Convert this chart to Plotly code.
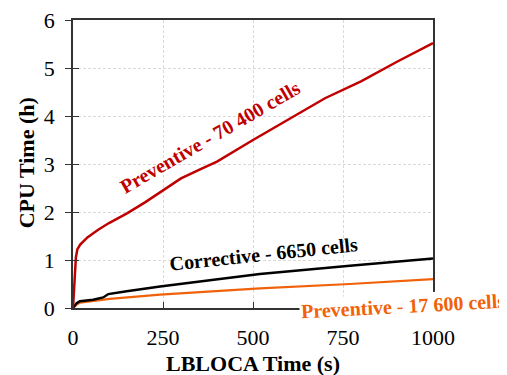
import plotly.graph_objects as go

# Data
red_x = [0, 2, 5, 8, 12, 20, 40, 70, 100, 150, 200, 250, 300, 350, 400, 500, 600, 700, 800, 900, 1000]
red_y = [0, 0.3, 0.7, 1.05, 1.22, 1.32, 1.47, 1.63, 1.77, 1.97, 2.2, 2.45, 2.7, 2.88, 3.05, 3.5, 3.93, 4.37, 4.72, 5.13, 5.52]

blk_x = [0, 5, 10, 19, 56, 84, 98, 149, 242, 380, 519, 769, 1000]
blk_y = [0, 0.06, 0.1, 0.14, 0.17, 0.22, 0.29, 0.35, 0.45, 0.58, 0.71, 0.88, 1.03]

org_x = [0, 5, 10, 19, 102, 242, 380, 519, 769, 1000]
org_y = [0, 0.04, 0.07, 0.11, 0.19, 0.28, 0.35, 0.41, 0.5, 0.6]

x_ticks = [0, 250, 500, 750, 1000]
y_ticks = [0, 1, 2, 3, 4, 5, 6]

RED = "#C00000"
ORANGE = "#F0620A"
FONT = "Liberation Serif"
AX = "#333333"

fig = go.Figure()
fig.add_trace(go.Scatter(x=org_x, y=org_y, mode="lines", line=dict(color=ORANGE, width=2.2), showlegend=False))
fig.add_trace(go.Scatter(x=blk_x, y=blk_y, mode="lines", line=dict(color="black", width=2.5), showlegend=False))
fig.add_trace(go.Scatter(x=red_x, y=red_y, mode="lines", line=dict(color=RED, width=2.5), showlegend=False))
# invisible trace for overlay axis (inner y ticks)
fig.add_trace(go.Scatter(x=[0], y=[0], yaxis="y2", mode="markers", marker=dict(opacity=0), showlegend=False, hoverinfo="skip"))

axis_line = dict(showline=True, linecolor=AX, linewidth=1.5, mirror=True, automargin=False)

# page has an 8px body margin, so the figure is sized to the visible area
fig.update_layout(
    width=499, height=367,
    margin=dict(l=65, r=74, t=12, b=67),
    plot_bgcolor="white", paper_bgcolor="white",
    font=dict(family=FONT, color="black"),
    xaxis=dict(range=[0, 1000], tickvals=x_ticks, ticks="inside", ticklen=6, tickcolor=AX,
               showgrid=True, gridcolor="#D9D9D9", griddash="3px,2px", gridwidth=1,
               tickfont=dict(size=22, family=FONT), zeroline=False, ticklabelstandoff=9,
               ticklabeloverflow="allow", **axis_line),
    yaxis=dict(range=[0, 6], tickvals=y_ticks, ticks="outside", ticklen=6, tickcolor=AX,
               showgrid=True, gridcolor="#D9D9D9", griddash="3px,2px", gridwidth=1,
               tickfont=dict(size=22, family=FONT), zeroline=False, ticklabelstandoff=6,
               ticklabeloverflow="allow", **axis_line),
    yaxis2=dict(range=[0, 6], tickvals=y_ticks, ticks="inside", ticklen=6, tickcolor=AX,
                overlaying="y", side="left", showticklabels=False, showgrid=False, zeroline=False,
                showline=False, automargin=False),
)

# axis titles (paper coords relative to plot area)
fig.add_annotation(x=0.5, y=-0.194, xref="paper", yref="paper", xanchor="center", yanchor="middle",
                   text="<b>LBLOCA Time (s)</b>",
                   showarrow=False, font=dict(size=22, family=FONT, color="black"))
fig.add_annotation(x=-0.13, y=0.503, xref="paper", yref="paper", xanchor="center", yanchor="middle",
                   text="<b>CPU Time (h)</b>",
                   showarrow=False, textangle=-90, font=dict(size=22, family=FONT, color="black"))

# series labels
fig.add_annotation(x=381, y=3.56, xref="x", yref="y", text="<b>Preventive - 70 400 cells</b>",
                   showarrow=False, textangle=-30, font=dict(size=20, color=RED, family=FONT))
fig.add_annotation(x=528, y=1.13, xref="x", yref="y", text="<b>Corrective - 6650 cells</b>",
                   showarrow=False, textangle=-6, font=dict(size=20, color="black", family=FONT))
fig.add_annotation(x=916, y=0.04, xref="x", yref="y", text="<b>Preventive - 17 600 cells</b>",
                   showarrow=False, textangle=-3, bgcolor="white",
                   font=dict(size=20, color=ORANGE, family=FONT))

fig.write_html("out.html")
